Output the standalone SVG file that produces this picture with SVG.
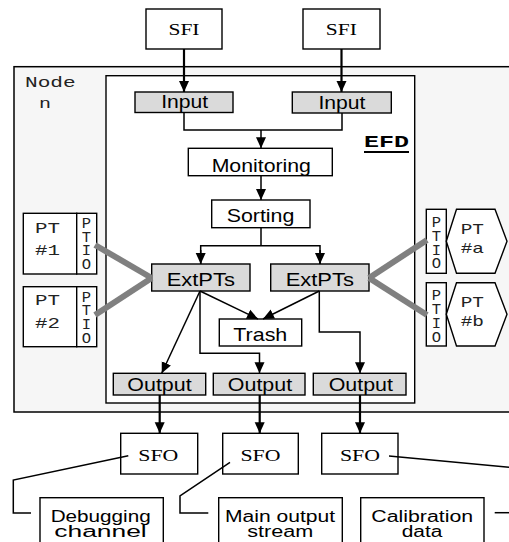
<svg xmlns="http://www.w3.org/2000/svg" width="509" height="542" viewBox="0 0 509 542">
<style>
.box{fill:#fff;stroke:#000;stroke-width:1.4}
.gbox{fill:#dadada;stroke:#000;stroke-width:1.4}
.sans{font-family:"Liberation Sans",Arial,sans-serif;font-size:18.5px;fill:#000;text-anchor:middle}
.sm{font-size:16px}
.serif{font-family:"Liberation Serif","Times New Roman",serif;font-size:16.5px;fill:#000;text-anchor:middle}
.mono{font-family:"Liberation Mono","Courier New",monospace;font-size:15px;fill:#222}
.io{font-family:"Liberation Mono","Courier New",monospace;font-size:15.5px;fill:#222;text-anchor:middle}
.ln{fill:none;stroke:#000;stroke-width:1.5}
.thick{fill:none;stroke:#000;stroke-width:2.2}
.gray{fill:none;stroke:#808080;stroke-width:6}
</style>
<defs>
<marker id="ah" markerUnits="userSpaceOnUse" markerWidth="12" markerHeight="12" viewBox="0 0 12 12" refX="11" refY="6" orient="auto">
<path d="M0,1 L11,6 L0,11 Z" fill="#000"/>
</marker>
</defs>

<g id="node-n">
<rect x="14" y="66.7" width="500" height="345.3" fill="#f6f6f6" stroke="#000" stroke-width="1.5"/>
<text class="mono" x="25" y="87.3" textLength="50.7" lengthAdjust="spacingAndGlyphs">Node</text>
<text class="mono" x="39" y="108.3" textLength="12" lengthAdjust="spacingAndGlyphs">n</text>
</g>

<g id="efd">
<rect x="106" y="75.7" width="308.7" height="327.3" fill="#fff" stroke="#000" stroke-width="1.4"/>
<text x="364" y="146.7" font-family="Liberation Mono,Courier New,monospace" font-size="17" font-weight="bold" textLength="45" lengthAdjust="spacingAndGlyphs">EFD</text>
<line x1="364" y1="152" x2="409" y2="152" stroke="#000" stroke-width="2.2"/>
</g>

<g id="sfi-1">
<rect class="box" x="146" y="9" width="76" height="40"/>
<text class="serif" x="184" y="35" textLength="31" lengthAdjust="spacingAndGlyphs">SFI</text>
</g>
<g id="sfi-2">
<rect class="box" x="303" y="9" width="77" height="40"/>
<text class="serif" x="341.3" y="35" textLength="31" lengthAdjust="spacingAndGlyphs">SFI</text>
</g>

<g id="input-1">
<rect class="gbox" x="135" y="92" width="98" height="20.5"/>
<text class="sans" x="184.7" y="108.3" textLength="47" lengthAdjust="spacingAndGlyphs">Input</text>
</g>
<g id="input-2">
<rect class="gbox" x="292.3" y="92" width="99" height="21"/>
<text class="sans" x="342" y="109" textLength="47" lengthAdjust="spacingAndGlyphs">Input</text>
</g>

<g id="monitoring">
<rect class="box" x="188.3" y="148.3" width="144" height="27.4"/>
<text class="sans" x="261.3" y="172.3" textLength="99.3" lengthAdjust="spacingAndGlyphs">Monitoring</text>
</g>

<g id="sorting">
<rect class="box" x="211.7" y="200" width="98.3" height="27.7"/>
<text class="sans" x="260.5" y="222.3" textLength="67.7" lengthAdjust="spacingAndGlyphs">Sorting</text>
</g>

<g id="extpts-1">
<rect class="gbox" x="151.7" y="264" width="98.3" height="27"/>
<text class="sans" x="200.8" y="285.7" textLength="68.3" lengthAdjust="spacingAndGlyphs">ExtPTs</text>
</g>
<g id="extpts-2">
<rect class="gbox" x="270.7" y="264" width="98.3" height="27"/>
<text class="sans" x="319.8" y="285.7" textLength="68.3" lengthAdjust="spacingAndGlyphs">ExtPTs</text>
</g>

<g id="trash">
<rect class="box" x="219.3" y="319" width="82.4" height="27"/>
<text class="sans" x="260.3" y="340.7" textLength="54" lengthAdjust="spacingAndGlyphs">Trash</text>
</g>

<g id="output-1">
<rect class="gbox" x="113.3" y="373.3" width="92.4" height="21.7"/>
<text class="sans" x="159.5" y="390.7" textLength="64.3" lengthAdjust="spacingAndGlyphs">Output</text>
</g>
<g id="output-2">
<rect class="gbox" x="213.3" y="373.3" width="91.7" height="21.7"/>
<text class="sans" x="260" y="390.7" textLength="64.3" lengthAdjust="spacingAndGlyphs">Output</text>
</g>
<g id="output-3">
<rect class="gbox" x="313.3" y="373.3" width="92.7" height="21.7"/>
<text class="sans" x="360.8" y="390.7" textLength="64.3" lengthAdjust="spacingAndGlyphs">Output</text>
</g>

<g id="pt-1">
<rect class="box" x="23.3" y="213.3" width="53.4" height="60.7"/>
<rect class="box" x="76.7" y="213.3" width="20" height="60.7"/>
<text class="mono" x="35" y="233.3" textLength="25" lengthAdjust="spacingAndGlyphs">PT</text>
<text class="mono" x="35" y="255" textLength="25" lengthAdjust="spacingAndGlyphs">#1</text>
<text class="io" x="86.5" y="228.3">P</text>
<text class="io" x="86.5" y="241.5">T</text>
<text class="io" x="86.5" y="255.3">I</text>
<text class="io" x="86.5" y="269.3">O</text>
</g>
<g id="pt-2">
<rect class="box" x="23.3" y="286.7" width="53.4" height="60"/>
<rect class="box" x="76.7" y="286.7" width="20" height="60"/>
<text class="mono" x="35" y="305" textLength="25" lengthAdjust="spacingAndGlyphs">PT</text>
<text class="mono" x="35" y="328.3" textLength="25" lengthAdjust="spacingAndGlyphs">#2</text>
<text class="io" x="86.5" y="301.7">P</text>
<text class="io" x="86.5" y="315">T</text>
<text class="io" x="86.5" y="328.7">I</text>
<text class="io" x="86.5" y="342.7">O</text>
</g>
<g id="pt-a">
<rect class="box" x="426.3" y="209.3" width="20" height="64"/>
<polygon class="box" points="446.3,241.3 456.5,209.3 495,209.3 507,241.3 495,273.3 456.5,273.3"/>
<text class="mono" x="460.7" y="234" textLength="23.3" lengthAdjust="spacingAndGlyphs">PT</text>
<text class="mono" x="460.7" y="252.7" textLength="23.3" lengthAdjust="spacingAndGlyphs">#a</text>
<text class="io" x="436.3" y="226.7">P</text>
<text class="io" x="436.3" y="240.7">T</text>
<text class="io" x="436.3" y="254.7">I</text>
<text class="io" x="436.3" y="268.3">O</text>
</g>
<g id="pt-b">
<rect class="box" x="426.3" y="282.7" width="20" height="63.3"/>
<polygon class="box" points="446.3,314.3 456.5,282.7 495,282.7 507,314.3 495,346 456.5,346"/>
<text class="mono" x="460.7" y="306.7" textLength="23.3" lengthAdjust="spacingAndGlyphs">PT</text>
<text class="mono" x="460.7" y="326" textLength="23.3" lengthAdjust="spacingAndGlyphs">#b</text>
<text class="io" x="436.3" y="300">P</text>
<text class="io" x="436.3" y="314">T</text>
<text class="io" x="436.3" y="328">I</text>
<text class="io" x="436.3" y="341.7">O</text>
</g>

<g id="sfo-1">
<rect class="box" x="120.7" y="433.3" width="77" height="40.7"/>
<text class="serif" x="158.3" y="461" textLength="40" lengthAdjust="spacingAndGlyphs">SFO</text>
</g>
<g id="sfo-2">
<rect class="box" x="222.7" y="433.3" width="75.6" height="40.7"/>
<text class="serif" x="260.5" y="461" textLength="40" lengthAdjust="spacingAndGlyphs">SFO</text>
</g>
<g id="sfo-3">
<rect class="box" x="321.7" y="433.3" width="76.3" height="40.7"/>
<text class="serif" x="360" y="461" textLength="40" lengthAdjust="spacingAndGlyphs">SFO</text>
</g>

<g id="debugging-channel">
<rect class="box" x="40" y="497.7" width="123.3" height="50"/>
<text class="sans sm" x="100.7" y="521.5" textLength="100" lengthAdjust="spacingAndGlyphs">Debugging</text>
<text class="sans sm" x="100.5" y="536.7" textLength="92.4" lengthAdjust="spacingAndGlyphs">channel</text>
</g>
<g id="main-output-stream">
<rect class="box" x="218.7" y="497.7" width="123.6" height="50"/>
<text class="sans sm" x="280" y="521.5" textLength="110" lengthAdjust="spacingAndGlyphs">Main output</text>
<text class="sans sm" x="280.3" y="536.7" textLength="66" lengthAdjust="spacingAndGlyphs">stream</text>
</g>
<g id="calibration-data">
<rect class="box" x="360.7" y="497.7" width="123.3" height="50"/>
<text class="sans sm" x="422.2" y="521.5" textLength="101.7" lengthAdjust="spacingAndGlyphs">Calibration</text>
<text class="sans sm" x="422" y="536.7" textLength="40.6" lengthAdjust="spacingAndGlyphs">data</text>
</g>

<g id="connectors">
<line class="thick" x1="184" y1="49" x2="184" y2="92" marker-end="url(#ah)"/>
<line class="thick" x1="341.5" y1="49" x2="341.5" y2="92" marker-end="url(#ah)"/>
<polyline class="ln" points="184,112.5 184,130 342,130 342,113"/>
<line class="ln" x1="261" y1="130" x2="261" y2="148.3" marker-end="url(#ah)"/>
<line class="ln" x1="261" y1="175.7" x2="261" y2="200" marker-end="url(#ah)"/>
<polyline class="ln" points="261,227.7 261,245.7"/>
<polyline class="ln" points="200.7,264 200.7,245.7 320,245.7 320,264"/>
<line class="ln" x1="200.7" y1="250" x2="200.7" y2="264" marker-end="url(#ah)"/>
<line class="ln" x1="320" y1="250" x2="320" y2="264" marker-end="url(#ah)"/>
<line class="ln" x1="200" y1="291" x2="161.7" y2="373.3" marker-end="url(#ah)"/>
<line class="ln" x1="200" y1="291" x2="258" y2="319" marker-end="url(#ah)"/>
<polyline class="ln" points="200,291 200,353.3 259.5,353.3 259.5,373.3" marker-end="url(#ah)"/>
<line class="ln" x1="319.3" y1="291" x2="263" y2="319" marker-end="url(#ah)"/>
<polyline class="ln" points="319.3,291 319.3,332 360,332 360,373.3" marker-end="url(#ah)"/>
<line class="thick" x1="159.7" y1="395" x2="159.7" y2="433.3" marker-end="url(#ah)"/>
<line class="thick" x1="259.7" y1="395" x2="259.7" y2="433.3" marker-end="url(#ah)"/>
<line class="thick" x1="360" y1="395" x2="360" y2="433.3" marker-end="url(#ah)"/>
<polyline class="ln" points="128.3,455.7 13.3,480 13.3,513 31,513"/>
<polyline class="ln" points="230,462.3 180,496 180,513 208.3,513"/>
<line class="ln" x1="389" y1="456" x2="509" y2="467.3"/>
<line class="ln" x1="494.7" y1="512.7" x2="509" y2="512.7"/>
<line class="gray" x1="95" y1="245" x2="151.7" y2="278"/>
<line class="gray" x1="95" y1="315" x2="151.7" y2="278"/>
<line class="gray" x1="369" y1="278" x2="427" y2="240"/>
<line class="gray" x1="369" y1="278" x2="427" y2="315"/>
</g>
</svg>
